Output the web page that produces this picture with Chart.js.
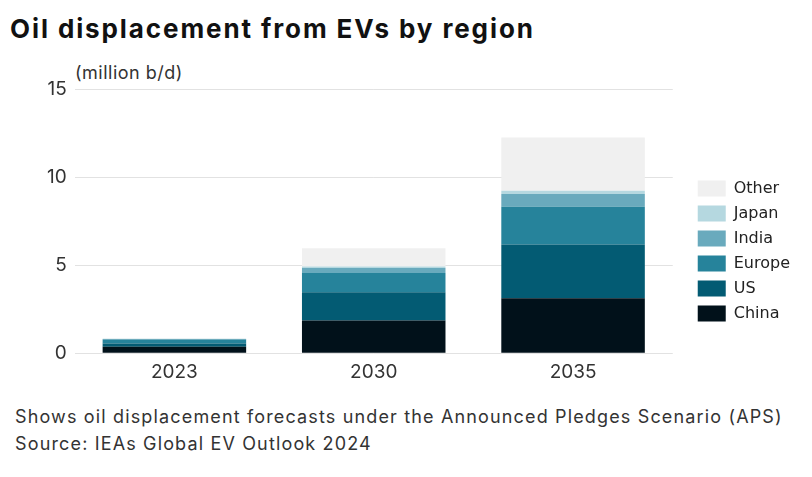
<!DOCTYPE html>
<html>
<head>
<meta charset="utf-8">
<script src="https://cdn.jsdelivr.net/npm/chart.js@4"></script>
<style>
  body { margin: 0; background: #fff; font-family: Inter, "Liberation Sans", sans-serif; color: #222; }
  #wrap { position: relative; width: 812px; height: 477px; overflow: hidden; }
  #title { position: absolute; left: 10px; top: 13px; font-size: 26px; font-weight: 700; color: #111; letter-spacing: 1.9px; }
  #unit { position: absolute; left: 75px; top: 62px; font-size: 18px; color: #333; letter-spacing: 0.5px; }
  #notes { position: absolute; left: 15px; top: 403px; font-size: 18px; line-height: 27px; color: #333; letter-spacing: 1.15px; }
  #chartBox { position: absolute; left: 0; top: 70px; width: 812px; height: 314px; }
</style>
</head>
<body>
<div id="wrap">
  <div id="title">Oil displacement from EVs by region</div>
  <div id="unit">(million b/d)</div>
  <div id="chartBox"><canvas id="chart"></canvas></div>
  <div id="notes">Shows oil displacement forecasts under the Announced Pledges Scenario (APS)<br>Source: IEAs Global EV Outlook 2024</div>
</div>
<script>
// --- Data (million b/d) ---
const years = ['2023', '2030', '2035'];
const china  = [0.36, 1.86, 3.13];
const us     = [0.19, 1.61, 3.05];
const europe = [0.23, 1.09, 2.15];
const india  = [0.03, 0.29, 0.72];
const japan  = [0.01, 0.08, 0.19];
const other  = [0.02, 1.04, 3.03];
const yTicks = [0, 5, 10, 15];

const series = [
    { label: 'China',  data: china,  color: '#01111a' },
    { label: 'US',     data: us,     color: '#035b73' },
    { label: 'Europe', data: europe, color: '#26839b' },
    { label: 'India',  data: india,  color: '#69aabd' },
    { label: 'Japan',  data: japan,  color: '#b5d8e0' },
    { label: 'Other',  data: other,  color: '#f0f0f0' }
];

const tickFont = 'Inter, "Liberation Sans", sans-serif';
const legendFont = '"DejaVu Sans", Inter, sans-serif';

// nudge the legend away from the plot and down a little
const LEGEND_DX = 16, LEGEND_DY = 22;
const legendNudge = {
    id: 'legendNudge',
    beforeInit(chart) {
        const fit = chart.legend.fit;
        chart.legend.fit = function () { fit.call(this); this.width += LEGEND_DX; };
    },
    afterLayout(chart) {
        const lg = chart.legend;
        lg.left += LEGEND_DX; lg.right += LEGEND_DX;
        lg.top += LEGEND_DY; lg.bottom += LEGEND_DY;
    }
};

new Chart(document.getElementById('chart'), {
    type: 'bar',
    data: {
        labels: years,
        datasets: series.map(s => ({
            label: s.label,
            data: s.data,
            backgroundColor: s.color,
            borderWidth: 0,
            categoryPercentage: 0.72,
            barPercentage: 1.0
        }))
    },
    options: {
        responsive: true,
        maintainAspectRatio: false,
        animation: false,
        layout: { padding: { left: 39, right: 12, top: 4, bottom: 0 } },
        plugins: {
            legend: {
                position: 'right',
                reverse: true,
                labels: {
                    boxWidth: 28,
                    boxHeight: 16,
                    padding: 9,
                    color: '#222',
                    font: { family: legendFont, size: 16 }
                }
            },
            tooltip: { enabled: false }
        },
        scales: {
            x: {
                stacked: true,
                grid: { display: false },
                border: { display: false },
                ticks: { color: '#333', font: { family: tickFont, size: 19 }, padding: 0 }
            },
            y: {
                stacked: true,
                min: 0,
                max: 15,
                afterBuildTicks: axis => { axis.ticks = yTicks.map(v => ({ value: v })); },
                grid: { color: '#e2e2e2', lineWidth: 1, drawTicks: false },
                border: { display: false },
                ticks: { color: '#333', font: { family: tickFont, size: 19 }, padding: 8 }
            }
        }
    },
    plugins: [legendNudge]
});
</script>
</body>
</html>
